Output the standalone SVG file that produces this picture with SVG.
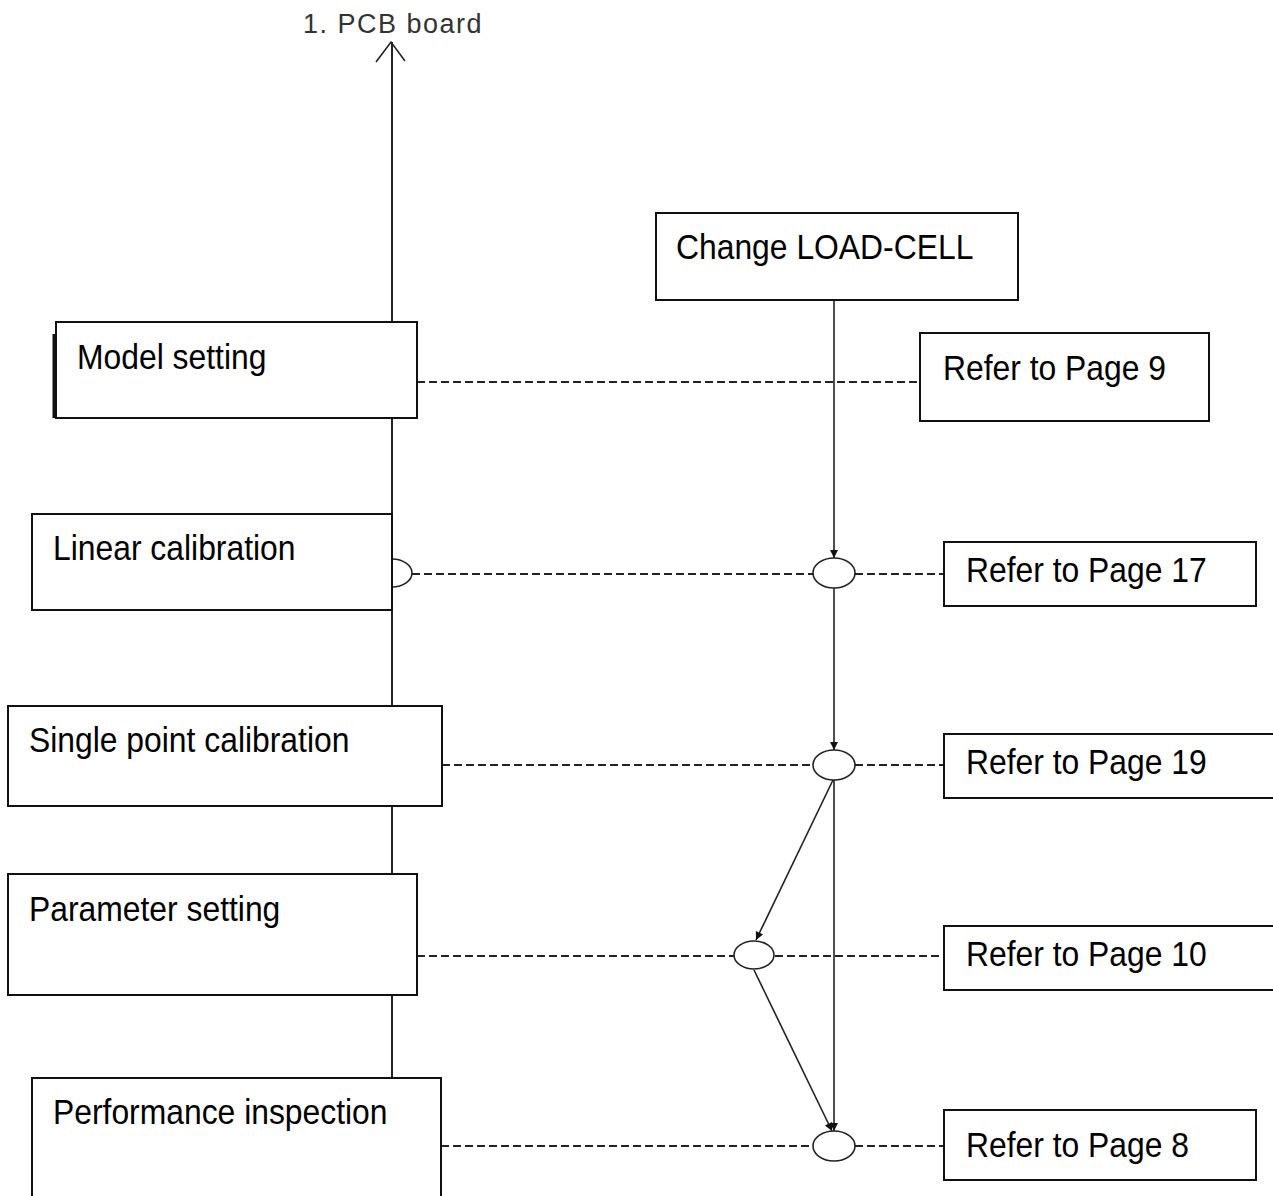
<svg xmlns="http://www.w3.org/2000/svg" width="1273" height="1196" viewBox="0 0 1273 1196">
<style>
.box{fill:#fff;stroke:#111;stroke-width:2}
.t{font-family:"Liberation Sans",Arial,sans-serif;font-size:35px;fill:#000}
.ln{stroke:#222;stroke-width:1.6;fill:none}
.dash{stroke:#222;stroke-width:1.8;fill:none;stroke-dasharray:8 4}
.ell{fill:#fff;stroke:#222;stroke-width:1.6}
</style>
<defs>
<marker id="ah" markerWidth="10" markerHeight="10" refX="9" refY="5" orient="auto" markerUnits="userSpaceOnUse">
<path d="M1,1 L9,5 L1,9 z" fill="#111"/>
</marker>
</defs>
<rect width="1273" height="1196" fill="#fff"/>
<g id="connectors">
<line class="ln" x1="392" y1="42" x2="392" y2="1078" style="stroke-width:2"/>
<polyline class="ln" points="376,62 391,42 405,61"/>
<line class="ln" x1="834" y1="300" x2="834" y2="558" marker-end="url(#ah)"/>
<line class="ln" x1="834" y1="588" x2="834" y2="750" marker-end="url(#ah)"/>
<line class="ln" x1="834" y1="780" x2="834" y2="1131" marker-end="url(#ah)"/>
<line class="ln" x1="833" y1="780" x2="756" y2="940" marker-end="url(#ah)"/>
<line class="ln" x1="754" y1="970" x2="832" y2="1131" marker-end="url(#ah)"/>
<line class="dash" x1="417" y1="382" x2="920" y2="382"/>
<line class="dash" x1="412" y1="574" x2="813" y2="574"/>
<line class="dash" x1="855" y1="574" x2="944" y2="574"/>
<line class="dash" x1="442" y1="765" x2="813" y2="765"/>
<line class="dash" x1="855" y1="765" x2="944" y2="765"/>
<line class="dash" x1="417" y1="956" x2="734" y2="956"/>
<line class="dash" x1="775" y1="956" x2="944" y2="956"/>
<line class="dash" x1="441" y1="1146" x2="813" y2="1146"/>
<line class="dash" x1="855" y1="1146" x2="944" y2="1146"/>
<path class="ln" d="M392,559 A20,14 0 0 1 392,587"/>
<ellipse class="ell" cx="834" cy="573" rx="21" ry="15"/>
<ellipse class="ell" cx="834" cy="765" rx="21" ry="15"/>
<ellipse class="ell" cx="754" cy="955" rx="20" ry="14"/>
<ellipse class="ell" cx="834" cy="1146" rx="21" ry="15"/>
</g>
<text x="303" y="33" style="font-family:'Liberation Sans',Arial,sans-serif;font-size:27px;letter-spacing:1.5px;fill:#333">1. PCB board</text>
<g id="change">
<rect class="box" x="656" y="213" width="362" height="87"/>
<text class="t" transform="translate(676,259) scale(0.91,1)">Change LOAD-CELL</text>
</g>
<g id="model">
<line x1="54" y1="334" x2="54" y2="418" stroke="#111" stroke-width="3"/>
<rect class="box" x="56" y="322" width="361" height="96"/>
<text class="t" transform="translate(77,369) scale(0.91,1)">Model setting</text>
</g>
<g id="ref9">
<rect class="box" x="920" y="333" width="289" height="88"/>
<text class="t" transform="translate(943,380) scale(0.91,1)">Refer to Page 9</text>
</g>
<g id="linear">
<rect class="box" x="32" y="514" width="360" height="96"/>
<text class="t" transform="translate(53,560) scale(0.91,1)">Linear calibration</text>
</g>
<g id="ref17">
<rect class="box" x="944" y="542" width="312" height="64"/>
<text class="t" transform="translate(966,582) scale(0.91,1)">Refer to Page 17</text>
</g>
<g id="single">
<rect class="box" x="8" y="706" width="434" height="100"/>
<text class="t" transform="translate(29,752) scale(0.91,1)">Single point calibration</text>
</g>
<g id="ref19">
<rect class="box" x="944" y="734" width="340" height="64"/>
<text class="t" transform="translate(966,774) scale(0.91,1)">Refer to Page 19</text>
</g>
<g id="parameter">
<rect class="box" x="8" y="874" width="409" height="121"/>
<text class="t" transform="translate(29,921) scale(0.91,1)">Parameter setting</text>
</g>
<g id="ref10">
<rect class="box" x="944" y="926" width="340" height="64"/>
<text class="t" transform="translate(966,966) scale(0.91,1)">Refer to Page 10</text>
</g>
<g id="performance">
<rect class="box" x="32" y="1078" width="409" height="130"/>
<text class="t" transform="translate(53,1124) scale(0.91,1)">Performance inspection</text>
</g>
<g id="ref8">
<rect class="box" x="944" y="1110" width="312" height="70"/>
<text class="t" transform="translate(966,1157) scale(0.91,1)">Refer to Page 8</text>
</g>
</svg>
